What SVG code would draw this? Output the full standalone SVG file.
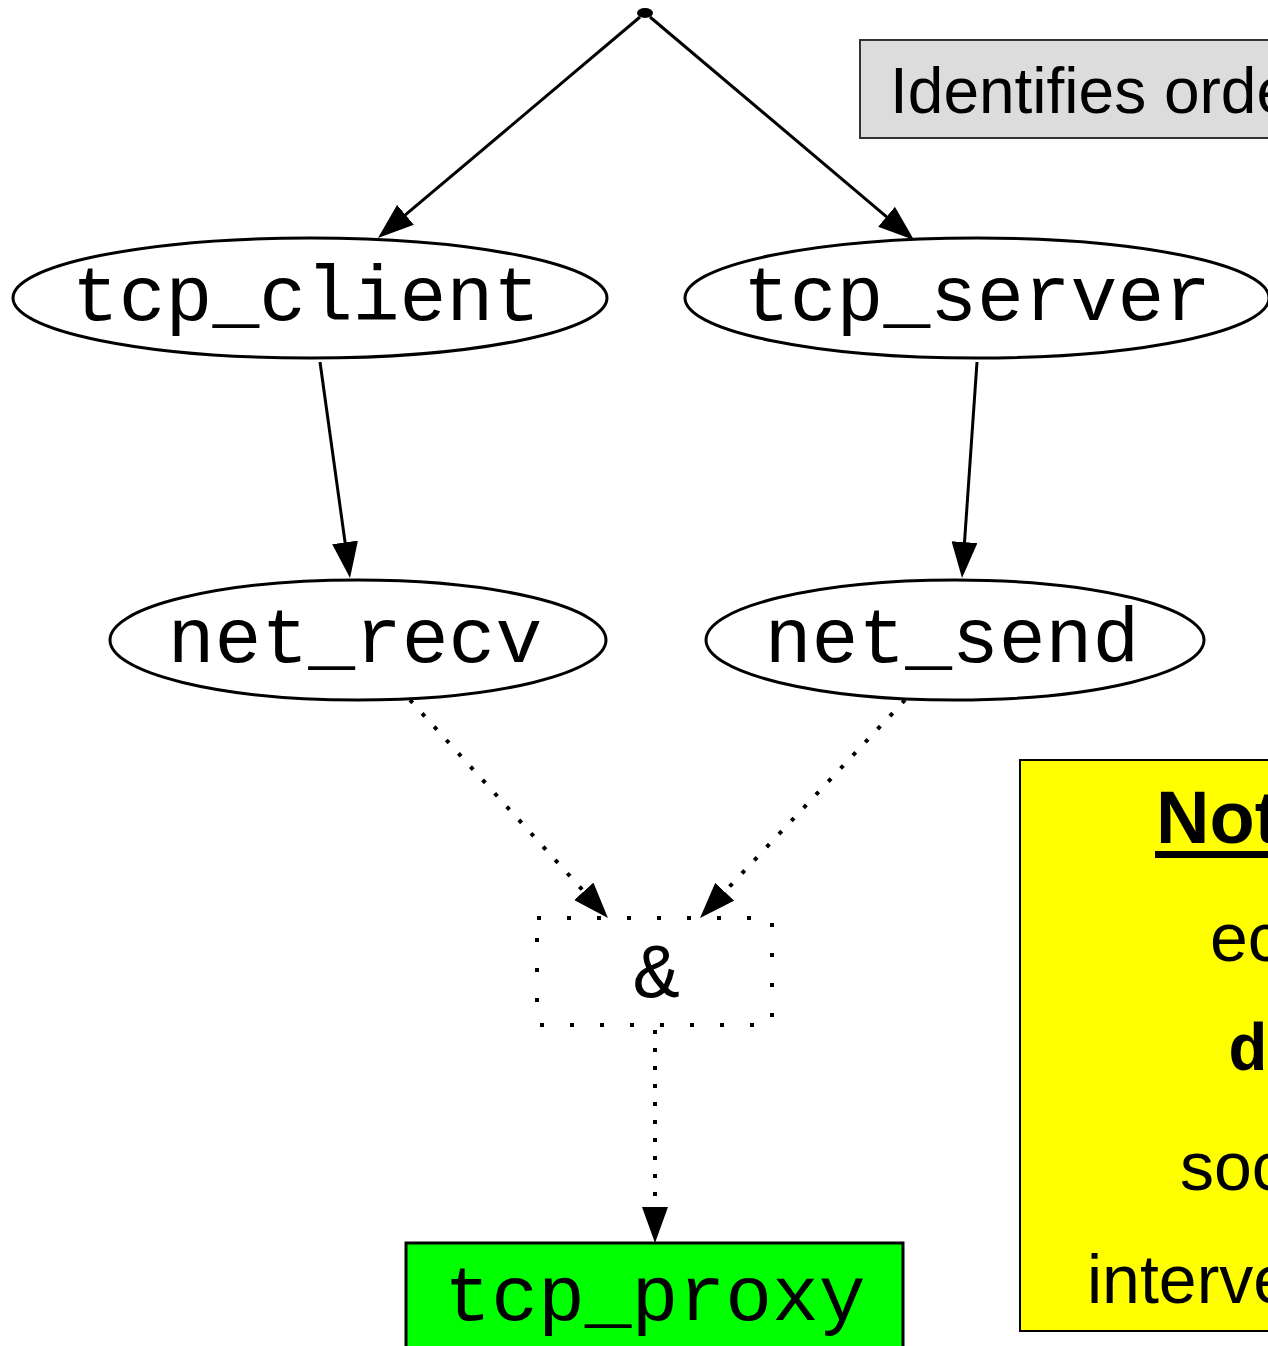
<svg xmlns="http://www.w3.org/2000/svg" width="1268" height="1346" viewBox="0 0 1268 1346">
<style>
.el{fill:#fff;stroke:#000;stroke-width:3}
.mono{font-family:"Liberation Mono","Courier New",monospace;font-size:78px;fill:#000;text-anchor:middle}
.sans{font-family:"Liberation Sans",Arial,sans-serif;fill:#000}
.e{fill:none;stroke:#000;stroke-width:3}
.d{fill:none;stroke:#000;stroke-width:4;stroke-dasharray:4 14}
</style>
<defs>
<marker id="ah" viewBox="0 0 36 26" refX="6" refY="13" markerWidth="36" markerHeight="26" markerUnits="userSpaceOnUse" orient="auto">
<path d="M0,0 L36,13 L0,26 z" fill="#000"/>
</marker>
</defs>
<rect width="1268" height="1346" fill="#fff"/>
<g id="connectors">
<path class="e" d="M640,17 L400.9,218.7" marker-end="url(#ah)"/>
<path class="e" d="M650,17 L891.1,220.6" marker-end="url(#ah)"/>
<path class="e" d="M320,362 L345.9,548.3" marker-end="url(#ah)"/>
<path class="e" d="M977,362 L964.1,548.1" marker-end="url(#ah)"/>
<path class="d" d="M410,700 L587.8,895.8" marker-end="url(#ah)"/>
<path class="d" d="M905,700 L720.6,896.1" marker-end="url(#ah)"/>
<path class="d" d="M655,1030 L655,1213" marker-end="url(#ah)"/>
</g>
<g id="start"><ellipse cx="645" cy="13" rx="8" ry="5" fill="#000"/></g>
<g id="legend">
<rect x="860" y="40" width="420" height="98" fill="#dcdcdc" stroke="#333" stroke-width="2"/>
<text class="sans" x="890" y="113" font-size="64">Identifies orde</text>
</g>
<g id="tcp_client"><ellipse class="el" cx="310" cy="298" rx="297" ry="60"/><text class="mono" x="306" y="320">tcp_client</text></g>
<g id="tcp_server"><ellipse class="el" cx="977" cy="298" rx="292" ry="60"/><text class="mono" x="977" y="320">tcp_server</text></g>
<g id="net_recv"><ellipse class="el" cx="358" cy="640" rx="248" ry="60"/><text class="mono" x="355" y="662">net_recv</text></g>
<g id="net_send"><ellipse class="el" cx="955" cy="640" rx="249" ry="60"/><text class="mono" x="952" y="662">net_send</text></g>
<g id="and"><rect x="537" y="918" width="235" height="107" fill="none" stroke="#000" stroke-width="4" stroke-dasharray="4 26"/><text class="mono" x="657" y="997">&amp;</text></g>
<g id="tcp_proxy"><rect x="406" y="1243" width="497" height="120" fill="#00ff00" stroke="#000" stroke-width="3"/><text class="mono" x="655" y="1320">tcp_proxy</text></g>
<g id="note">
<rect x="1020" y="760" width="260" height="571" fill="#ffff00" stroke="#000" stroke-width="2"/>
<text class="sans" x="1156" y="843" font-size="74" font-weight="bold">Not</text>
<rect x="1155" y="851" width="120" height="7" fill="#000"/>
<text class="sans" x="1210" y="961" font-size="68">ec</text>
<text x="1228" y="1070" font-family="'Liberation Mono','Courier New',monospace" font-weight="bold" font-size="66">d</text>
<text class="sans" x="1180" y="1190" font-size="68">soc</text>
<text class="sans" x="1087" y="1303" font-size="68">interve</text>
</g>
</svg>
